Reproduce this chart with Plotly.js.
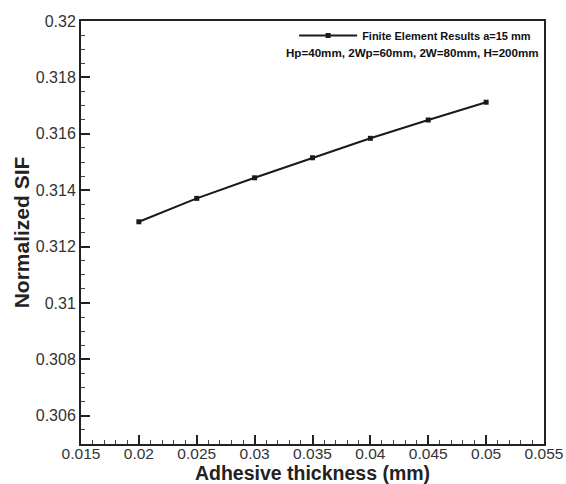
<!DOCTYPE html>
<html>
<head>
<meta charset="utf-8">
<script src="https://cdn.plot.ly/plotly-3.0.1.min.js"></script>
<style>html,body{margin:0;padding:0;background:#fff;}#chart{width:566px;height:484px;}</style>
</head>
<body>
<div id="chart"></div>
<script>
// Data
const thickness = [0.02, 0.025, 0.03, 0.035, 0.04, 0.045, 0.05];
const normalizedSIF = [0.31288, 0.31371, 0.31444, 0.31515, 0.31584, 0.31649, 0.31712];
const seriesName = 'Finite Element Results a=15 mm';
const noteText = 'Hp=40mm, 2Wp=60mm, 2W=80mm, H=200mm';
const xTickVals = [0.015, 0.02, 0.025, 0.03, 0.035, 0.04, 0.045, 0.05, 0.055];
const xTickText = ['0.015', '0.02', '0.025', '0.03', '0.035', '0.04', '0.045', '0.05', '0.055'];
const yTickVals = [0.306, 0.308, 0.31, 0.312, 0.314, 0.316, 0.318, 0.32];
const yTickText = ['0.306', '0.308', '0.31', '0.312', '0.314', '0.316', '0.318', '0.32'];

const font = 'Liberation Sans, Arial, sans-serif';

const trace = {
  x: thickness,
  y: normalizedSIF,
  type: 'scatter',
  mode: 'lines+markers',
  name: seriesName,
  line: {color: '#1a1a1a', width: 2},
  marker: {symbol: 'square', size: 5, color: '#1a1a1a'}
};

const layout = {
  width: 566,
  height: 484,
  margin: {l: 81, r: 22, t: 21, b: 40},
  paper_bgcolor: '#ffffff',
  plot_bgcolor: '#ffffff',
  font: {family: font, color: '#222'},
  showlegend: true,
  legend: {
    x: 0.983, y: 1.0, xanchor: 'right', yanchor: 'top',
    bgcolor: 'rgba(0,0,0,0)',
    font: {family: font, size: 11, color: '#111', weight: 'bold'},
    itemwidth: 58
  },
  xaxis: {
    range: [0.015, 0.055],
    tickvals: xTickVals,
    ticktext: xTickText,
    ticks: 'inside',
    ticklen: 9,
    tickwidth: 2,
    tickcolor: '#222',
    showgrid: false,
    zeroline: false,
    showline: true,
    linewidth: 2,
    linecolor: '#222',
    mirror: true,
    ticklabelstandoff: -6,
    tickfont: {family: font, size: 15.5, color: '#333'},
    minor: {dtick: 0.001, ticks: 'inside', ticklen: 4, tickwidth: 1, tickcolor: '#444', showgrid: false},
    title: {text: 'Adhesive thickness (mm)', font: {family: font, size: 19.5, color: '#222', weight: 'bold'}, standoff: 1}
  },
  yaxis: {
    range: [0.305, 0.32],
    tickvals: yTickVals,
    ticktext: yTickText,
    ticks: 'inside',
    ticklen: 9,
    tickwidth: 2,
    tickcolor: '#222',
    showgrid: false,
    zeroline: false,
    showline: true,
    linewidth: 2,
    linecolor: '#222',
    mirror: true,
    tickfont: {family: font, size: 16, color: '#333'},
    minor: {dtick: 0.0005, ticks: 'inside', ticklen: 4, tickwidth: 1, tickcolor: '#444', showgrid: false},
    title: {text: 'Normalized SIF', font: {family: font, size: 21, color: '#222', weight: 'bold'}, standoff: 0}
  },
  annotations: [{
    xref: 'paper', yref: 'paper',
    x: 0.993, y: 0.925, xanchor: 'right', yanchor: 'middle',
    text: noteText, showarrow: false,
    font: {family: font, size: 11.6, color: '#111', weight: 'bold'}
  }]
};

Plotly.newPlot('chart', [trace], layout, {displayModeBar: false, staticPlot: true});
</script>
</body>
</html>
